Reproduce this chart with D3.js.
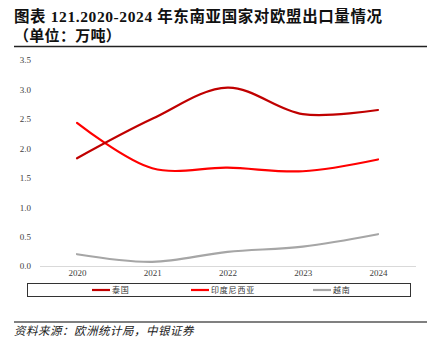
<!DOCTYPE html>
<html><head><meta charset="utf-8">
<script src="https://cdn.jsdelivr.net/npm/d3@7"></script>
<style>body{margin:0;background:#fff}svg{display:block}</style>
</head><body>
<svg id="c" width="445" height="349"></svg>
<script>
const years = ["2020","2021","2022","2023","2024"];
const thailand = [1.83, 2.5, 3.03, 2.58, 2.65];
const indonesia = [2.43, 1.66, 1.67, 1.61, 1.81];
const vietnam = [0.2, 0.07, 0.24, 0.33, 0.54];
const yTicks = [0, 0.5, 1.0, 1.5, 2.0, 2.5, 3.0, 3.5];
const seriesNames = ["泰国", "印度尼西亚", "越南"];
const seriesColors = ["#C00000", "#FF0000", "#A6A6A6"];

const svg = d3.select("#c");
const cjk = "'Liberation Serif','Noto Sans CJK SC',serif";

svg.append("text").attr("x", 14).attr("y", 22).attr("font-family", cjk).attr("font-weight", "bold")
  .attr("font-size", 15.5).attr("letter-spacing", 0.6).attr("fill", "#111").text("图表 121.2020-2024 年东南亚国家对欧盟出口量情况");
svg.append("text").attr("x", 14).attr("y", 41).attr("font-family", cjk).attr("font-weight", "bold")
  .attr("font-size", 15).attr("letter-spacing", 0.3).attr("fill", "#111").text("（单位：万吨）");
svg.append("line").attr("x1", 14).attr("x2", 427).attr("y1", 46.5).attr("y2", 46.5).attr("stroke", "#222").attr("stroke-width", 1.3);

const x = d3.scalePoint().domain(years).range([77, 378]);
const y = d3.scaleLinear().domain([0, 3.5]).range([266, 60]);

const yAxis = d3.axisLeft(y).tickValues(yTicks).tickFormat(d3.format(".1f")).tickSize(0).tickPadding(0);
const gy = svg.append("g").attr("transform", "translate(31,0)").call(yAxis);
gy.select(".domain").remove();
gy.selectAll("text").attr("font-family", "'Liberation Serif',serif").attr("font-size", 9).attr("fill", "#404040");

svg.append("line").attr("x1", 40).attr("x2", 416).attr("y1", 266.5).attr("y2", 266.5).attr("stroke", "#D9D9D9").attr("stroke-width", 1);

const xAxis = d3.axisBottom(x).tickSize(0).tickPadding(0);
const gx = svg.append("g").attr("transform", "translate(0,270)").call(xAxis);
gx.select(".domain").remove();
gx.selectAll("text").attr("font-family", "'Liberation Serif',serif").attr("font-size", 9).attr("fill", "#404040").attr("dy", "0.71em");

const line = d3.line().x((d, i) => x(years[i])).y(d => y(d)).curve(d3.curveCatmullRom.alpha(0.5));
const allSeries = [thailand, indonesia, vietnam];
[2, 1, 0].forEach(k => {
  svg.append("path").attr("d", line(allSeries[k])).attr("fill", "none")
    .attr("stroke", seriesColors[k]).attr("stroke-width", 2.2).attr("stroke-linecap", "round");
});

svg.append("rect").attr("x", 27.5).attr("y", 283.5).attr("width", 383).attr("height", 13).attr("fill", "none").attr("stroke", "#333").attr("stroke-width", 1);
const legX = [92, 191, 313];
seriesNames.forEach((n, k) => {
  svg.append("line").attr("x1", legX[k]).attr("x2", legX[k] + 18).attr("y1", 290).attr("y2", 290)
    .attr("stroke", seriesColors[k]).attr("stroke-width", 2.2);
  svg.append("text").attr("x", legX[k] + 20).attr("y", 293).attr("font-family", cjk).attr("font-size", 8)
    .attr("letter-spacing", 0.8).attr("fill", "#333").text(n);
});

svg.append("line").attr("x1", 14).attr("x2", 427).attr("y1", 322).attr("y2", 322).attr("stroke", "#808080").attr("stroke-width", 1.8);
svg.append("text").attr("x", 14).attr("y", 335).attr("font-family", cjk).attr("font-style", "italic")
  .attr("font-size", 11.5).attr("letter-spacing", 0.5).attr("fill", "#222").text("资料来源：欧洲统计局，中银证券");
</script>
</body></html>
